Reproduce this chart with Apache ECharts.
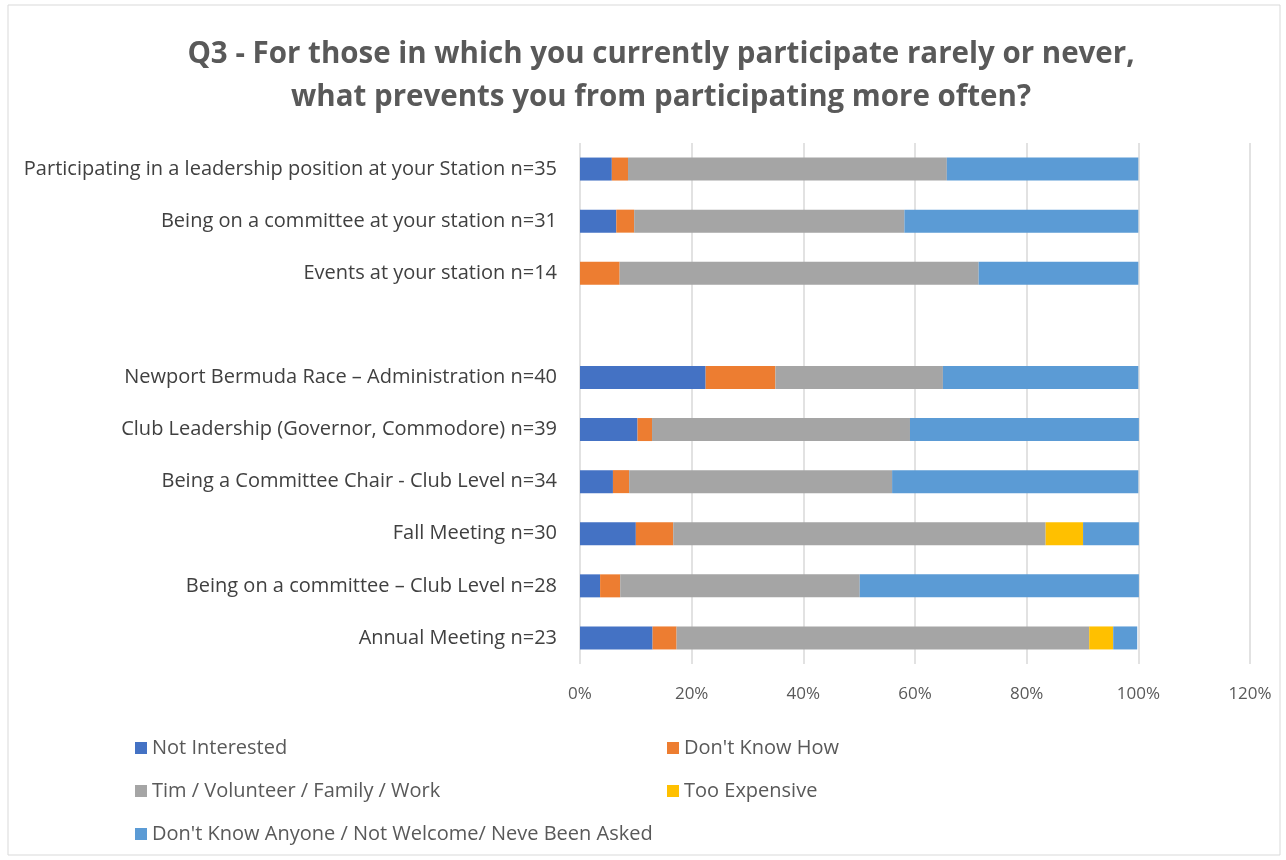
<!DOCTYPE html>
<html>
<head>
<meta charset="utf-8">
<script src="https://cdn.jsdelivr.net/npm/echarts@6/dist/echarts.min.js"></script>
<style>
  html, body { margin: 0; padding: 0; background: #fff; }
  #eChart { width: 1286px; height: 860px; }
</style>
</head>
<body>
<div id="eChart"></div>
<script>
// categories, top to bottom (blank row separates station items from club items)
var categories = [
  'Participating in a leadership position at your Station n=35',
  'Being on a committee at your station n=31',
  'Events at your station n=14',
  '',
  'Newport Bermuda Race \u2013 Administration n=40',
  'Club Leadership (Governor, Commodore) n=39',
  'Being a Committee Chair - Club Level n=34',
  'Fall Meeting n=30',
  'Being on a committee \u2013 Club Level n=28',
  'Annual Meeting n=23'
];

// shares in percent, same order as categories
var notInterested = [5.7, 6.5, 0, null, 22.5, 10.3, 5.9, 10.0, 3.6, 13.0];
var dontKnowHow   = [2.9, 3.2, 7.1, null, 12.5, 2.6, 2.9, 6.7, 3.6, 4.3];
var timeWork      = [57.1, 48.4, 64.3, null, 30.0, 46.2, 47.1, 66.7, 42.9, 73.9];
var tooExpensive  = [0, 0, 0, null, 0, 0, 0, 6.7, 0, 4.3];
var noOneAsked    = [34.3, 41.9, 28.6, null, 35.0, 41.0, 44.1, 10.0, 50.0, 4.3];

var xTicks = { min: 0, max: 120, interval: 20 };

var seriesNames = [
  'Not Interested',
  "Don't Know How",
  'Tim / Volunteer / Family / Work',
  'Too Expensive',
  "Don't Know Anyone / Not Welcome/ Neve Been Asked"
];
var seriesColors = ['#4472C4', '#ED7D31', '#A5A5A5', '#FFC000', '#5B9BD5'];
var seriesData = [notInterested, dontKnowHow, timeWork, tooExpensive, noOneAsked];

var mainChart = echarts.init(document.getElementById('eChart'));

var legendText = { fontFamily: 'Open Sans', fontSize: 20, color: '#595959' };

var option = {
  animation: false,
  backgroundColor: '#fff',
  graphic: [
    {
      type: 'rect',
      shape: { x: 8, y: 5, width: 1272, height: 850 },
      style: { fill: 'none', stroke: '#d9d9d9', lineWidth: 1 },
      silent: true
    }
  ],
  title: {
    text: 'Q3 - For those in which you currently participate rarely or never,\nwhat prevents you from participating more often?',
    left: 656,
    textAlign: 'center',
    top: 28,
    textStyle: {
      fontFamily: 'Open Sans',
      fontWeight: 'bold',
      fontSize: 29.5,
      lineHeight: 43,
      color: '#595959'
    }
  },
  legend: [
    {
      orient: 'vertical',
      left: 130,
      top: 733,
      itemWidth: 12,
      itemHeight: 12,
      itemGap: 23,
      icon: 'rect',
      textStyle: legendText,
      data: [seriesNames[0], seriesNames[2], seriesNames[4]]
    },
    {
      orient: 'vertical',
      left: 662,
      top: 733,
      itemWidth: 12,
      itemHeight: 12,
      itemGap: 23,
      icon: 'rect',
      textStyle: legendText,
      data: [seriesNames[1], seriesNames[3]]
    }
  ],
  grid: {
    left: 580,
    right: 36,
    top: 143,
    bottom: 196,
    containLabel: false
  },
  xAxis: {
    type: 'value',
    min: xTicks.min,
    max: xTicks.max,
    interval: xTicks.interval,
    axisLine: { show: false },
    axisTick: { show: false },
    splitLine: { show: true, lineStyle: { color: '#d9d9d9', width: 1.5 } },
    axisLabel: {
      formatter: '{value}%',
      margin: 22,
      fontFamily: 'Open Sans',
      fontSize: 17,
      color: '#595959'
    }
  },
  yAxis: {
    type: 'category',
    inverse: true,
    data: categories,
    axisLine: { show: false },
    axisTick: { show: false },
    axisLabel: {
      margin: 23,
      fontFamily: 'Open Sans',
      fontSize: 20,
      color: '#404040'
    }
  },
  series: seriesNames.map(function (name, i) {
    return {
      name: name,
      type: 'bar',
      stack: 'total',
      barWidth: 23,
      itemStyle: { color: seriesColors[i] },
      data: seriesData[i]
    };
  })
};

mainChart.setOption(option);
</script>
</body>
</html>
